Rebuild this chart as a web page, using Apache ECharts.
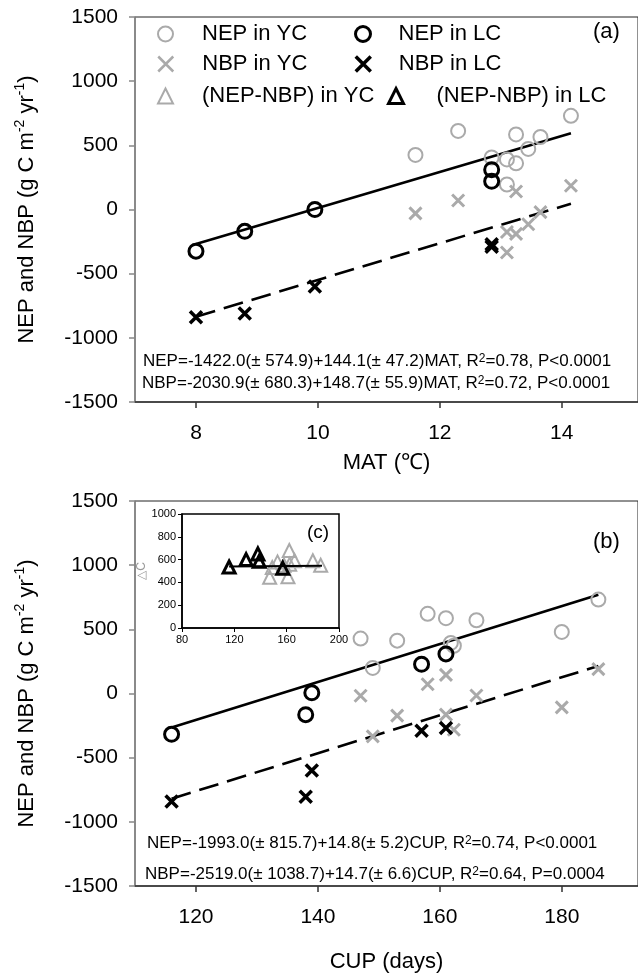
<!DOCTYPE html>
<html><head><meta charset="utf-8">
<script src="https://cdn.jsdelivr.net/npm/echarts@6/dist/echarts.min.js"></script>
<style>html,body{margin:0;padding:0;background:#fff}#c{width:638px;height:975px}</style>
</head><body><div id="c"></div>
<script>
// ---- data ----
// Panel (a): x = MAT (°C)
const matNepYC = [[11.6,425],[12.3,612],[12.85,405],[13.1,390],[13.25,585],[13.25,360],[13.45,472],[13.65,565],[14.15,730],[13.1,195]];
const matNbpYC = [[11.6,-30],[12.3,70],[13.25,140],[14.15,185],[13.1,-175],[13.25,-190],[13.45,-115],[13.65,-20],[13.1,-335],[12.85,-280]];
const matNepLC = [[8.0,-325],[8.8,-170],[9.95,0],[12.85,310],[12.85,220]];
const matNbpLC = [[8.0,-840],[8.8,-810],[9.95,-600],[12.85,-290],[12.85,-270]];
const matNepFit = [[8.0,-268],[14.15,595]];
const matNbpFit = [[8.0,-835],[14.15,45]];
// Panel (b): x = CUP (days)
const cupNepYC = [[147,428],[149,199],[153,412],[158,621],[161,587],[161.8,394],[162.3,372],[166,571],[180,480],[186,732]];
const cupNbpYC = [[147,-18],[149,-334],[153,-172],[158,72],[161,145],[161,-165],[162.3,-282],[166,-16],[180,-108],[186,190]];
const cupNepLC = [[116,-318],[138,-165],[139,5],[157,228],[161,308]];
const cupNbpLC = [[116,-842],[138,-805],[139,-600],[157,-290],[161,-268]];
const cupNepFit = [[116,-265],[186,770]];
const cupNbpFit = [[116,-820],[186,215]];
// Inset (c): x = CUP, y = NEP-NBP
const dcYC = [[147,445],[149,530],[153,580],[158,550],[161,450],[162,680],[162.3,560],[166,590],[180,590],[186,550]];
const dcLC = [[116,535],[129,600],[138,650],[139,585],[157,525]];
const dcFit = [[116,540],[187,545]];
// tick labels
const matTicks = [8,10,12,14];
const cupTicks = [120,140,160,180];
const eqA1 = 'NEP=-1422.0(± 574.9)+144.1(± 47.2)MAT, R{s|2}=0.78, P<0.0001';
const eqA2 = 'NBP=-2030.9(± 680.3)+148.7(± 55.9)MAT, R{s|2}=0.72, P<0.0001';
const eqB1 = 'NEP=-1993.0(± 815.7)+14.8(± 5.2)CUP, R{s|2}=0.74, P<0.0001';
const eqB2 = 'NBP=-2519.0(± 1038.7)+14.7(± 6.6)CUP, R{s|2}=0.64, P=0.0004';

const FONT = '"Liberation Sans", Arial, sans-serif';
const GREY = '#aaaaaa';
const BLACK = '#000';
const XP = 'path://M0,0L10,10M10,0L0,10';
const CLEAR = 'rgba(0,0,0,0)';
const plain = v => String(v);

function sc(name, data, idx, symbol, size, color, bw, z) {
  return {type:'scatter', name, data, xAxisIndex:idx, yAxisIndex:idx, symbol, symbolSize:size,
    itemStyle:{color:CLEAR, borderColor:color, borderWidth:bw, opacity:1}, z, silent:true};
}
function ln(data, idx, dashed) {
  return {type:'line', data, xAxisIndex:idx, yAxisIndex:idx, showSymbol:false, symbol:'none', silent:true, z:4,
    lineStyle:{color:BLACK, width:2.6, type: dashed ? [20,9] : 'solid'}};
}
const yTitle = '{n|NEP and NBP (g C m}{s|-2}{n| yr}{s|-1}{n|)}';
const yRich = {n:{fontSize:22, fontFamily:FONT, color:'#000', lineHeight:28}, s:{fontSize:14, fontFamily:FONT, color:'#000', verticalAlign:'top', lineHeight:14}};

function mainY(gi) {
  return {gridIndex:gi, type:'value', min:-1500, max:1500, interval:500,
    axisLine:{show:true, onZero:false, lineStyle:{color:'#888', width:1.5}},
    axisTick:{show:true, length:6, lineStyle:{color:'#888', width:1.5}},
    axisLabel:{fontSize:21, fontFamily:FONT, color:'#000', margin:17, formatter:plain},
    splitLine:{show:false},
    name:yTitle, nameLocation:'middle', nameGap:94, nameTextStyle:{rich:yRich}};
}
function mainX(gi, min, max, ticks, name, gap) {
  return {gridIndex:gi, type:'value', min, max,
    axisLine:{show:true, onZero:false, lineStyle:{color:'#333', width:1.5}},
    axisTick:{show:true, length:6, customValues:ticks, lineStyle:{color:'#333', width:1.5}},
    axisLabel:{fontSize:21, fontFamily:FONT, color:'#000', margin:21, customValues:ticks, formatter:plain},
    splitLine:{show:false},
    name, nameLocation:'middle', nameGap:gap, nameTextStyle:{fontSize:22, fontFamily:FONT, color:'#000'}};
}
function leg(name, left, top, pad, bw) {
  return {data:[name], left, top, padding:0, orient:'horizontal', selectedMode:false, itemWidth:15, itemHeight:15,
    itemStyle:{borderWidth:bw}, textStyle:{fontSize:22, fontFamily:FONT, color:'#000', padding:[0,0,0,pad]}};
}
function txt(text, left, top, size) {
  return {type:'text', left, top, silent:true, z:50,
    style:{text, fontSize:size, fontFamily:FONT, fill:'#000',
      rich:{s:{fontSize:Math.round(size*0.7), fontFamily:FONT, fill:'#000', verticalAlign:'top', lineHeight:Math.round(size*0.7)}}}};
}

const option = {
  animation:false,
  backgroundColor:'#fff',
  textStyle:{fontFamily:FONT},
  grid:[
    {left:135, top:17, width:504, height:385, show:true, borderColor:'#222', borderWidth:1, backgroundColor:'transparent'},
    {left:135, top:501, width:504, height:385, show:true, borderColor:'#222', borderWidth:1, backgroundColor:'transparent'},
    {left:182, top:514, width:157, height:114, show:true, borderColor:'#000', borderWidth:1.5, backgroundColor:'#fff', z:10}
  ],
  xAxis:[
    mainX(0, 7, 15.25, matTicks, 'MAT (℃)', 50),
    mainX(1, 110, 192.5, cupTicks, 'CUP (days)', 65),
    {gridIndex:2, type:'value', min:80, max:200, interval:40, z:11,
      axisLine:{show:true, onZero:false, lineStyle:{color:'#000', width:1.5}},
      axisTick:{show:true, length:4, lineStyle:{color:'#000'}},
      axisLabel:{fontSize:11, fontFamily:FONT, color:'#000', margin:6, formatter:plain},
      splitLine:{show:false}}
  ],
  yAxis:[
    mainY(0), mainY(1),
    {gridIndex:2, type:'value', min:0, max:1000, interval:200, z:11,
      axisLine:{show:true, onZero:false, lineStyle:{color:'#000', width:1.5}},
      axisTick:{show:true, length:4, lineStyle:{color:'#000'}},
      axisLabel:{fontSize:11, fontFamily:FONT, color:'#000', margin:6, formatter:plain},
      splitLine:{show:false},
      name:'△C', nameLocation:'middle', nameGap:27, nameTextStyle:{fontSize:12, fontFamily:FONT, color:'#999'}}
  ],
  legend:[
    leg('NEP in YC', 157, 23, 24, 2),
    leg('NEP in LC', 354, 23, 23, 3),
    leg('NBP in YC', 157, 53, 24, 2.5),
    leg('NBP in LC', 354, 53, 23, 3.5),
    leg('(NEP-NBP) in YC', 157, 85, 24, 2),
    leg('(NEP-NBP) in LC', 387, 85, 28, 3)
  ],
  series:[
    sc('NEP in YC', matNepYC, 0, 'circle', 14, GREY, 2, 5),
    sc('NBP in YC', matNbpYC, 0, XP, 12, GREY, 3, 5),
    ln(matNepFit, 0, false),
    ln(matNbpFit, 0, true),
    sc('NEP in LC', matNepLC, 0, 'circle', 14, BLACK, 3, 6),
    sc('NBP in LC', matNbpLC, 0, XP, 12, BLACK, 3.5, 6),

    sc('NEP in YC', cupNepYC, 1, 'circle', 14, GREY, 2, 5),
    sc('NBP in YC', cupNbpYC, 1, XP, 12, GREY, 3, 5),
    ln(cupNepFit, 1, false),
    ln(cupNbpFit, 1, true),
    sc('NEP in LC', cupNepLC, 1, 'circle', 14, BLACK, 3, 6),
    sc('NBP in LC', cupNbpLC, 1, XP, 12, BLACK, 3.5, 6),

    sc('(NEP-NBP) in YC', dcYC, 2, 'triangle', 13, GREY, 2, 12),
    Object.assign(ln(dcFit, 2, false), {z:13, lineStyle:{color:BLACK, width:2}}),
    sc('(NEP-NBP) in LC', dcLC, 2, 'triangle', 12, BLACK, 3, 14)
  ],
  graphic:[
    txt('(a)', 593, 21, 22),
    txt('(b)', 593, 531, 22),
    txt('(c)', 307, 523, 19),
    txt(eqA1, 143, 353, 17),
    txt(eqA2, 142, 375, 17),
    txt(eqB1, 147, 835, 17),
    txt(eqB2, 145, 866, 17)
  ]
};
const chart = echarts.init(document.getElementById('c'), null, {renderer:'canvas'});
chart.setOption(option);
</script></body></html>
